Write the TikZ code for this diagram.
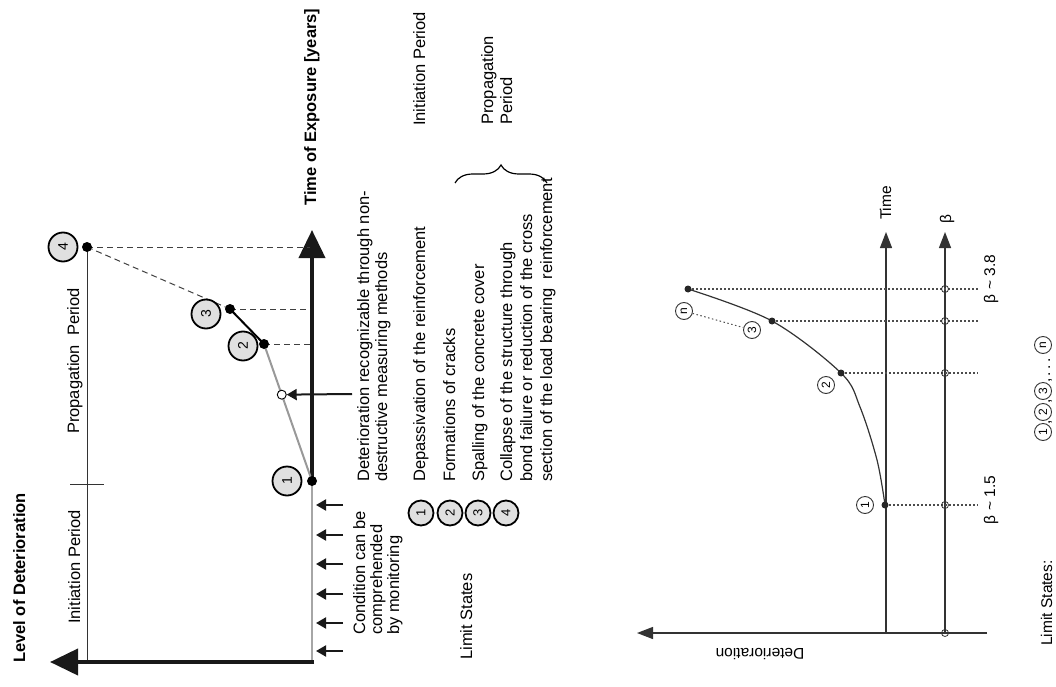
\documentclass[tikz,border=0pt]{standalone}
\usepackage{fontspec}
\setmainfont{Liberation Sans}
\usetikzlibrary{arrows.meta,decorations.pathreplacing,calc}
\begin{document}
\begin{tikzpicture}[x=1pt,y=-1pt]
\tikzset{
 lbl/.style={rotate=90, inner sep=0pt, font=\fontsize{16.5}{20}\selectfont},
 blbl/.style={rotate=90, inner sep=0pt, font=\fontsize{16.5}{20}\selectfont\bfseries},
 slbl/.style={rotate=90, inner sep=0pt, font=\fontsize{15.5}{18}\selectfont},
 bigc/.style={circle, draw=black, line width=1.8pt, fill=black!12, minimum size=29pt, inner sep=0pt, rotate=90, font=\fontsize{14}{14}\selectfont},
 legc/.style={bigc, minimum size=25pt, font=\fontsize{13}{13}\selectfont},
 smc/.style={circle, draw=black!80, line width=0.9pt, fill=white, minimum size=17pt, inner sep=0pt, rotate=90, font=\fontsize{12}{12}\selectfont},
 dotL/.style={circle, fill=black, inner sep=0pt, minimum size=10pt},
 dotR/.style={circle, fill=black!85, inner sep=0pt, minimum size=7pt},
 ocircL/.style={circle, draw=black, fill=white, line width=0.9pt, inner sep=0pt, minimum size=9pt},
 ocircR/.style={circle, draw=black!80, line width=0.8pt, inner sep=0pt, minimum size=7pt},
 thickax/.style={line width=4pt, black!90, -{Triangle[length=28pt,width=26pt]}},
 smarr/.style={line width=2pt, black!90, -{Triangle[length=10pt,width=11pt]}},
 dsh/.style={line width=1pt, black!75, dash pattern=on 6pt off 4pt},
 thin/.style={line width=1pt, black!80},
 rax/.style={line width=1.3pt, black!80, -{Triangle[length=16pt,width=12pt]}},
 dtt/.style={line width=1.2pt, black!70, dash pattern=on 1.5pt off 2.5pt},
}
\useasboundingbox (0,0) rectangle (1056,687);

% ---------------- left diagram ----------------
\coordinate (L4) at (87,247);
\coordinate (L3) at (230,309);
\coordinate (L2) at (264,344);
\coordinate (L1) at (312,481);
\coordinate (T4) at (310,247);
\coordinate (T3) at (310,309);
\coordinate (T2) at (310,344);
\coordinate (Ltop) at (312,230);
\coordinate (Lcorner) at (312,662);
\coordinate (Lcorner2) at (314,662);
\coordinate (Lleft) at (50,662);
\coordinate (Pbot) at (87,662);
\coordinate (tickA) at (70,484);
\coordinate (tickB) at (104,484);

\draw[thin] (L4) -- (Pbot);
\draw[thin] (tickA) -- (tickB);
\draw[line width=1.5pt, black!35] (L1) -- (Lcorner);
\draw[thickax] (L1) -- (Ltop);
\draw[thickax] (Lcorner2) -- (Lleft);
\draw[dsh] (L4) -- (T4);
\draw[dsh] (L4) -- (L3);
\draw[dsh] (L3) -- (T3);
\draw[dsh] (L2) -- (T2);
\draw[line width=2pt, black] (L3) -- (L2);
\draw[line width=2pt, black!40] (L2) -- (L1);
\node[ocircL] (oc) at ($(L2)!0.37!(L1)$) {};
\coordinate (ocs) at (352,394);
\draw[smarr] (ocs) -- (oc);

\foreach \yy [count=\i] in {505,535,564,594,623,651}{
  \coordinate (ma\i) at (343,\yy);
  \coordinate (mb\i) at (316,\yy);
  \draw[smarr] (ma\i) -- (mb\i);
}

\node[dotL] (d4) at (L4) {};
\node[dotL] (d3) at (L3) {};
\node[dotL] (d2) at (L2) {};
\node[dotL] (d1) at (L1) {};
\node[bigc] (c4) at (63,247) {4};
\node[bigc] (c3) at (206,314) {3};
\node[bigc] (c2) at (243,346) {2};
\node[bigc] (c1) at (287,481) {1};

\node[blbl, anchor=base] (tTime) at (316,107) {Time of Exposure [years]};
\node[blbl, anchor=base] (tLevel) at (25,578) {Level of Deterioration};
\node[lbl, anchor=base] (tIni) at (80,567) {Initiation Period};
\node[lbl, anchor=base] (tProp) at (79,361) {Propagation\ \ Period};

\node[lbl, anchor=base west] (nd1) at (369,482) {Deterioration recognizable through non-};
\node[lbl, anchor=base west] (nd2) at (387,482) {destructive measuring methods};
\node[lbl, anchor=base west] (cm1) at (365,635) {Condition can be};
\node[lbl, anchor=base west] (cm2) at (382,635) {comprehended};
\node[lbl, anchor=base west] (cm3) at (399,635) {by monitoring};

% legend
\node[lbl, anchor=base] (gIni) at (425,69) {Initiation Period};
\node[lbl, anchor=base west] (gP1) at (493,125) {Propagation};
\node[lbl, anchor=base west] (gP2) at (512,125) {Period};
\coordinate (brA) at (455,183);
\coordinate (brB) at (547,183);
\draw[decorate, decoration={brace, amplitude=18pt}, line width=1.2pt] (brA) -- (brB);
\node[lbl, anchor=base west] (gLS) at (472,660) {Limit States};
\node[legc] (g1) at (421,513) {1};
\node[legc] (g2) at (450,513) {2};
\node[legc] (g3) at (478,513) {3};
\node[legc] (g4) at (506,513) {4};
\node[lbl, anchor=base west] (gt1) at (425,482) {Depassivation of the reinforcement};
\node[lbl, anchor=base west] (gt2) at (455,482) {Formations of cracks};
\node[lbl, anchor=base west] (gt3) at (484,482) {Spalling of the concrete cover};
\node[lbl, anchor=base west] (gt4) at (512,482) {Collapse of the structure through};
\node[lbl, anchor=base west] (gt5) at (532,482) {bond failure or reduction of the cross};
\node[lbl, anchor=base west] (gt6) at (552,482) {section of the load bearing\ \ reinforcement};

% ---------------- right diagram ----------------
\coordinate (R1) at (885,505);
\coordinate (R2) at (841,373);
\coordinate (R3) at (772,321);
\coordinate (Rn) at (688,289);
\coordinate (Rm) at (860,407);
\coordinate (Rk) at (877,460);
\coordinate (O) at (886,633);
\coordinate (Otop) at (886,232);
\coordinate (Bb) at (945,633);
\coordinate (Btop) at (945,232);
\coordinate (Dr) at (987,633);
\coordinate (Dl) at (637,633);
\coordinate (E1) at (978,505);
\coordinate (E2) at (978,373);
\coordinate (E3) at (978,321);
\coordinate (En) at (978,289);

\draw[rax] (O) -- (Otop);
\draw[rax] (Bb) -- (Btop);
\draw[rax] (Dr) -- (Dl);
\draw[dtt] (R1) -- (E1);
\draw[dtt] (R2) -- (E2);
\draw[dtt] (R3) -- (E3);
\draw[dtt] (Rn) -- (En);
\draw[line width=1.2pt, black!80] plot[smooth, tension=0.55] coordinates {(Rn) (R3) (R2) (Rm) (Rk) (R1)};

\foreach \yy [count=\i] in {289,321,373,505,633}{
  \node[ocircR] (bo\i) at (945,\yy) {};
}
\node[dotR] (r1) at (R1) {};
\node[dotR] (r2) at (R2) {};
\node[dotR] (r3) at (R3) {};
\node[dotR] (rn) at (Rn) {};
\node[smc] (s1) at (865,505) {1};
\node[smc] (s2) at (826,385) {2};
\node[smc] (s3) at (752,330) {3};
\node[smc] (sn) at (684,311) {n};
\draw[dtt, line width=1pt] (sn) -- (s3);

\node[slbl, anchor=base] (rTime) at (891,203) {Time};
\node[slbl, anchor=base] (rBeta) at (951,219) {β};
\node[slbl, anchor=base] (rb15) at (995,500) {β \textasciitilde{} 1.5};
\node[slbl, anchor=base] (rb38) at (995,279) {β \textasciitilde{} 3.8};
\node[slbl, anchor=base] (rLS) at (1052,603) {Limit States:};
\node[rotate=180, inner sep=0pt, font=\fontsize{15.5}{18}\selectfont] (rDet) at (760,654) {Deterioration};

\node[smc] (k1) at (1043,432) {1};
\node[slbl, anchor=base] (kc1) at (1050,422) {,};
\node[smc] (k2) at (1043,412) {2};
\node[slbl, anchor=base] (kc2) at (1050,401) {,};
\node[smc] (k3) at (1043,391) {3};
\node[slbl, anchor=base] (kc3) at (1050,380) {,};
\node[slbl, anchor=base] (kdots) at (1050,367) {.\,.\,.};
\node[smc] (kn) at (1043,345) {n};
\end{tikzpicture}
\end{document}
